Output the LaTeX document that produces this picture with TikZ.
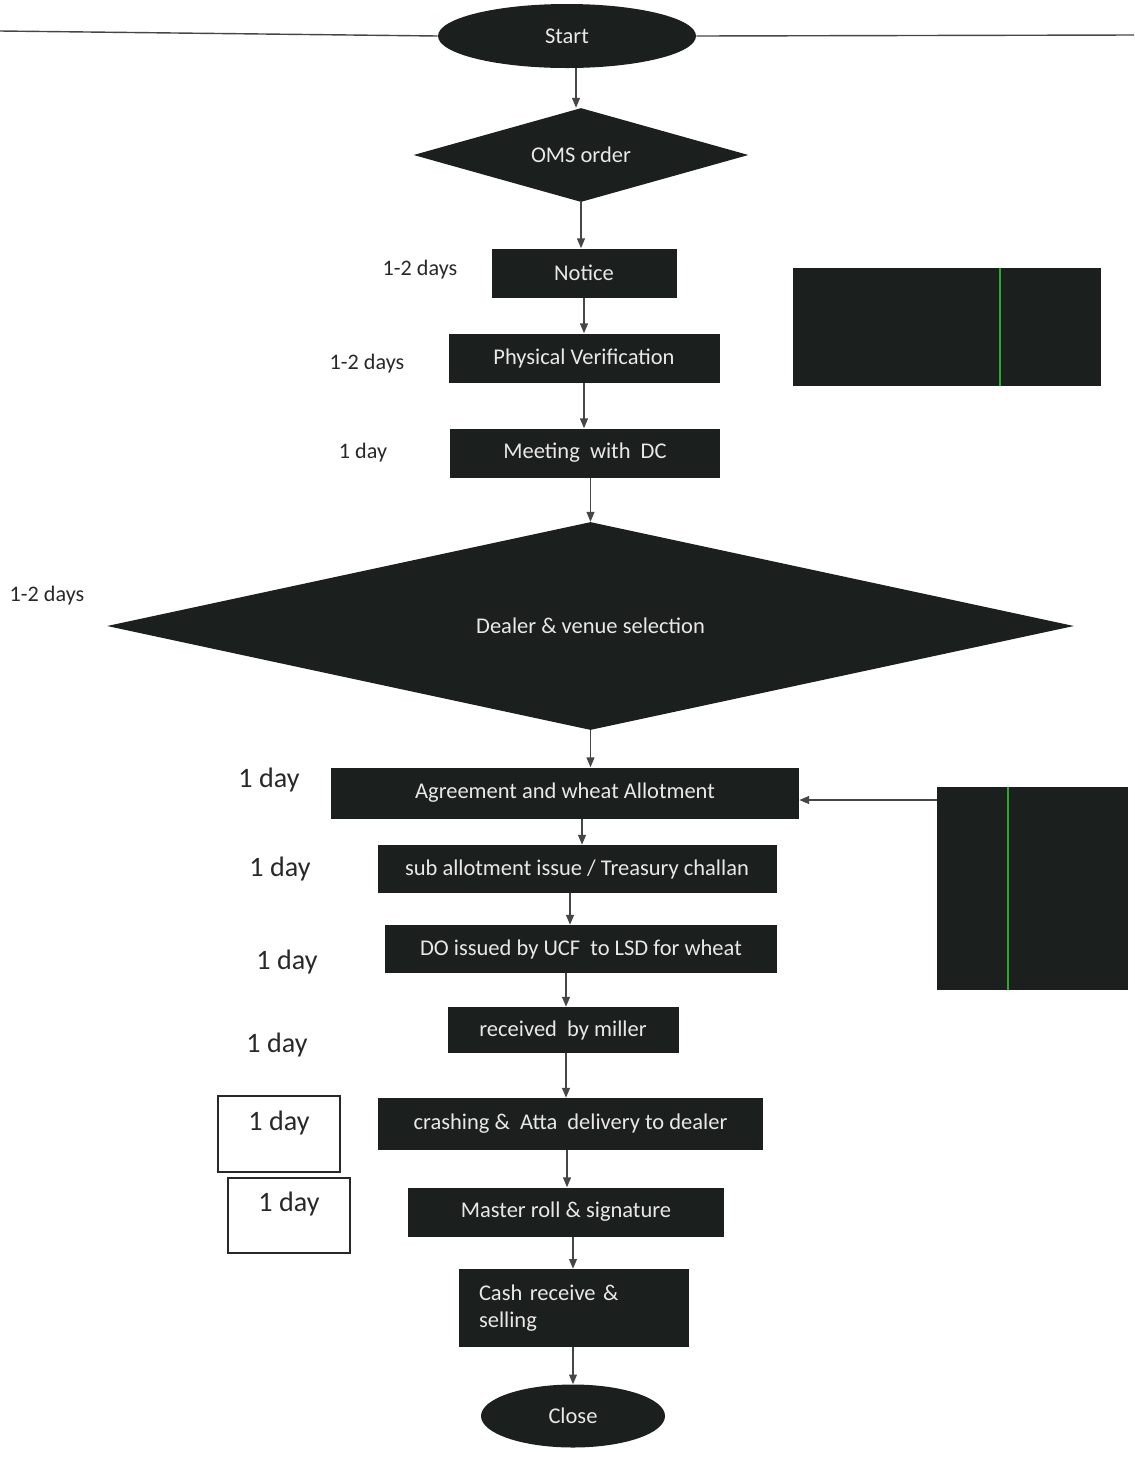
\documentclass[tikz,border=0pt]{standalone}
\usepackage{fontspec}
\setmainfont{Carlito}
\usepackage{tikz}
\usetikzlibrary{shapes.geometric, arrows.meta, positioning, calc}
\usepackage{xcolor}
\definecolor{boxdark}{RGB}{27,31,29}
\definecolor{boxtext}{RGB}{232,232,232}
\definecolor{linegray}{RGB}{70,70,70}
\definecolor{labelgray}{RGB}{40,40,40}
\definecolor{scangreen}{RGB}{40,170,40}

\begin{document}
\begin{tikzpicture}[
    procbox/.style={rectangle, fill=boxdark, text=boxtext, inner sep=0pt, font=\fontsize{12.8}{15}\selectfont},
    decision/.style={diamond, fill=boxdark, text=boxtext, inner sep=0pt, font=\fontsize{12.8}{15}\selectfont},
    terminal/.style={ellipse, fill=boxdark, text=boxtext, inner sep=0pt, font=\fontsize{12.8}{15}\selectfont},
    sidebox/.style={rectangle, fill=boxdark, inner sep=0pt},
    daylabel/.style={text=labelgray, font=\fontsize{12.6}{15}\selectfont},
    bigday/.style={text=labelgray, font=\fontsize{16}{19}\selectfont},
    daybox/.style={draw=labelgray, line width=0.7pt, text=labelgray, minimum width=2.44cm, minimum height=1.52cm, text depth=0.55cm, font=\fontsize{16}{19}\selectfont},
    arr/.style={-{Triangle[length=5.5pt, width=4.5pt]}, draw=linegray, line width=0.6pt}
]

\useasboundingbox (0,0) rectangle (22.68,-29.26);

% Start and top rule
\node[terminal, minimum width=5.16cm, minimum height=1.28cm] (start) at (11.34, -0.72) {Start};
\coordinate (ruleL) at (0, -0.62);
\coordinate (ruleR) at (22.68, -0.70);
\draw[linegray, line width=0.8pt] (ruleL) -- (start.west);
\draw[linegray, line width=0.8pt] (start.east) -- (ruleR);

% Main flow
\node[decision, aspect=3.56, minimum width=6.70cm, minimum height=1.88cm] (oms) at (11.62, -3.10) {OMS order};
\node[procbox, minimum width=3.70cm, minimum height=0.98cm] (notice) at (11.68, -5.46) {Notice};
\node[procbox, minimum width=5.42cm, minimum height=0.98cm] (verif) at (11.68, -7.16) {Physical Verification};
\node[procbox, minimum width=5.40cm, minimum height=0.98cm] (meeting) at (11.70, -9.06) {Meeting\ \ with\ \ DC};
\node[decision, aspect=4.65, minimum width=19.34cm, minimum height=4.16cm] (dealer) at (11.81, -12.52) {Dealer \& venue selection};
\node[procbox, minimum width=9.36cm, minimum height=1.02cm] (agree) at (11.30, -15.86) {Agreement and wheat Allotment};
\node[procbox, minimum width=7.98cm, minimum height=0.96cm] (sub) at (11.54, -17.38) {sub allotment issue / Treasury challan};
\node[procbox, minimum width=7.84cm, minimum height=0.96cm] (do) at (11.62, -18.98) {DO issued by UCF\ \ to LSD for wheat};
\node[procbox, minimum width=4.62cm, minimum height=0.92cm] (recv) at (11.26, -20.60) {received\ \ by miller};
\node[procbox, minimum width=7.70cm, minimum height=1.04cm] (crash) at (11.41, -22.48) {crashing \&\ \ Atta\ \ delivery to dealer};
\node[procbox, minimum width=6.32cm, minimum height=0.98cm] (master) at (11.32, -24.24) {Master roll \& signature};
\node[procbox, minimum width=4.60cm, minimum height=1.56cm, text width=3.8cm, align=left, inner xsep=0.4cm] (cash) at (11.48, -26.16) {Cash receive \&\\selling};
\node[terminal, minimum width=3.68cm, minimum height=1.26cm] (close) at (11.46, -28.32) {Close};

% Side boxes
\node[sidebox, minimum width=6.16cm, minimum height=2.36cm] (side1) at (18.94, -6.54) {};
\node[sidebox, minimum width=3.82cm, minimum height=4.06cm] (side2) at (20.65, -17.77) {};
\draw[scangreen, line width=0.8pt] (20.00, -5.36) -- (20.00, -7.72);
\draw[scangreen, line width=0.8pt] (20.16, -15.74) -- (20.16, -19.80);

% Duration labels
\node[daylabel] (t1) at (8.40, -5.40) {1-2 days};
\node[daylabel] (t2) at (7.34, -7.28) {1-2 days};
\node[daylabel] (t3) at (7.26, -9.06) {1 day};
\node[daylabel] (t4) at (0.94, -11.92) {1-2 days};
\node[bigday] (t5) at (5.38, -15.60) {1 day};
\node[bigday] (t6) at (5.60, -17.38) {1 day};
\node[bigday] (t7) at (5.74, -19.24) {1 day};
\node[bigday] (t8) at (5.54, -20.90) {1 day};
\node[daybox] (t9) at (5.58, -22.68) {1 day};
\node[daybox, minimum height=1.50cm] (t10) at (5.78, -24.31) {1 day};

% Connectors
\draw[arr] (start.south -| 11.52,0) -- (oms.north -| 11.52,0);
\draw[arr] (oms.south) -- (oms.south |- notice.north);
\draw[arr] (notice.south) -- (verif.north);
\draw[arr] (verif.south) -- (verif.south |- meeting.north);
\draw[arr] (meeting.south -| dealer.north) -- (dealer.north);
\draw[arr] (dealer.south) -- (dealer.south |- agree.north);
\draw[arr] (agree.south -| 11.64,0) -- (sub.north -| 11.64,0);
\draw[arr] (sub.south -| 11.40,0) -- (do.north -| 11.40,0);
\draw[arr] (do.south -| 11.32,0) -- (recv.north -| 11.32,0);
\draw[arr] (recv.south -| 11.32,0) -- (crash.north -| 11.32,0);
\draw[arr] (crash.south -| 11.34,0) -- (master.north -| 11.34,0);
\draw[arr] (master.south -| 11.46,0) -- (cash.north -| 11.46,0);
\draw[arr] (cash.south -| close.north) -- (close.north);
\draw[arr] (side2.west |- 0,-16.00) -- (agree.east |- 0,-16.00);

\end{tikzpicture}
\end{document}
